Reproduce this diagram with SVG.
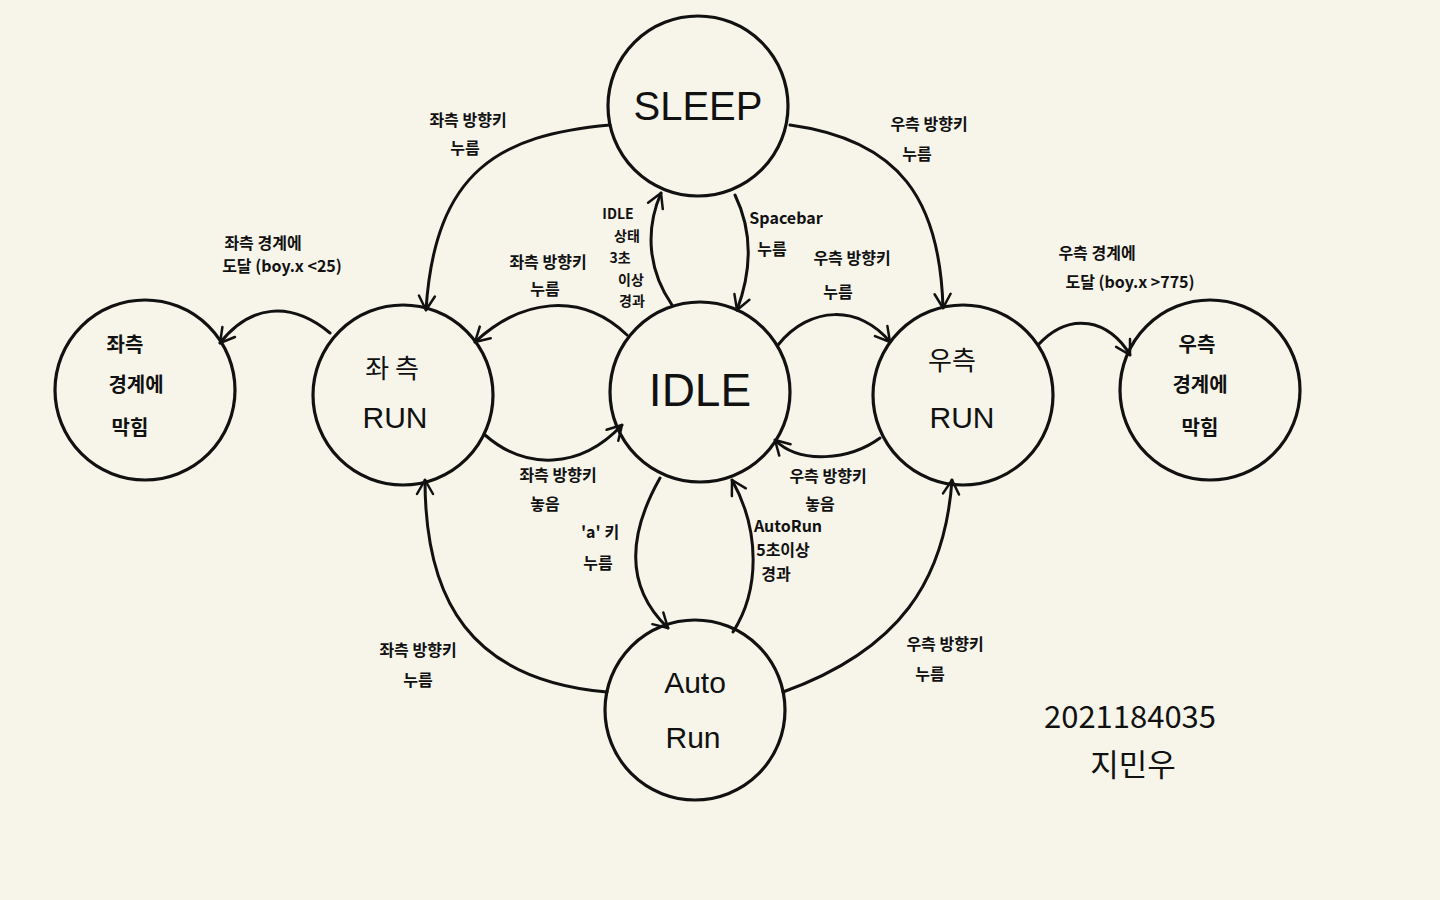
<svg xmlns="http://www.w3.org/2000/svg" width="1440" height="900" viewBox="0 0 1440 900">
<defs>
<marker id="arr" viewBox="0 0 20 20" refX="16" refY="10" markerWidth="20" markerHeight="20" markerUnits="userSpaceOnUse" orient="auto">
<path d="M2,2 L16,10 L2,18" fill="none" stroke="#111" stroke-width="2.5" stroke-linecap="round" stroke-linejoin="round"/>
</marker>
<style>
.node circle{fill:none;stroke:#111;stroke-width:3.2}
.edges path{fill:none;stroke:#111;stroke-width:3;stroke-linecap:round;marker-end:url(#arr)}
text{font-family:"Noto Sans CJK KR","Noto Sans",sans-serif;fill:#111;text-anchor:middle}
.big{font-size:40px;font-family:"Liberation Sans","Noto Sans CJK KR",sans-serif}
.mid{font-size:30px;font-family:"Liberation Sans","Noto Sans CJK KR",sans-serif}
.kr{font-size:26px}
.lbl{font-size:16px;font-weight:700}
.sm{font-size:14px;font-weight:700}
.sig{font-size:31px}
</style>
</defs>
<rect width="1440" height="900" fill="#f7f5ea"/>
<g class="edges">
<path d="M610,125 C500,135 435,170 426,310"/>
<path d="M790,125 C900,140 940,200 943,308"/>
<path d="M330,333 C290,300 250,305 220,343"/>
<path d="M1038,345 C1070,310 1110,320 1130,355"/>
<path d="M672,305 C648,270 645,230 661,193"/>
<path d="M735,195 C752,230 752,270 737,310"/>
<path d="M627,335 C580,290 520,300 475,342"/>
<path d="M485,435 C525,470 580,470 622,425"/>
<path d="M778,345 C810,305 860,305 890,342"/>
<path d="M880,438 C850,460 800,465 775,440"/>
<path d="M660,478 C625,540 628,590 668,628"/>
<path d="M733,632 C760,590 760,530 732,480"/>
<path d="M607,692 C470,680 425,600 425,480"/>
<path d="M783,692 C900,650 945,580 952,480"/>
</g>
<g id="sleep" class="node"><circle cx="698" cy="106" r="90"/><text class="big" x="698" y="120">SLEEP</text></g>
<g id="idle" class="node"><circle cx="700" cy="392" r="90"/><text class="big" x="700" y="406" style="font-size:46px">IDLE</text></g>
<g id="leftrun" class="node"><circle cx="403" cy="395" r="90"/><text class="kr" x="392" y="378">좌 측</text><text class="mid" x="395" y="428">RUN</text></g>
<g id="rightrun" class="node"><circle cx="963" cy="395" r="90"/><text class="kr" x="952" y="370">우측</text><text class="mid" x="962" y="428">RUN</text></g>
<g id="autorun" class="node"><circle cx="695" cy="710" r="90"/><text class="mid" x="695" y="693">Auto</text><text class="mid" x="693" y="748">Run</text></g>
<g id="leftblock" class="node"><circle cx="145" cy="390" r="90"/><text class="lbl" x="125" y="352" style="font-size:20px">좌측</text><text class="lbl" x="136" y="392" style="font-size:20px">경계에</text><text class="lbl" x="130" y="435" style="font-size:20px">막힘</text></g>
<g id="rightblock" class="node"><circle cx="1210" cy="390" r="90"/><text class="lbl" x="1197" y="352" style="font-size:20px">우측</text><text class="lbl" x="1200" y="392" style="font-size:20px">경계에</text><text class="lbl" x="1200" y="435" style="font-size:20px">막힘</text></g>
<g id="labels">
<text class="lbl" x="468" y="126">좌측 방향키</text><text class="lbl" x="465" y="154">누름</text>
<text class="lbl" x="929" y="130">우측 방향키</text><text class="lbl" x="917" y="160">누름</text>
<text class="lbl" x="263" y="249">좌측 경계에</text><text class="lbl" x="282" y="272">도달 (boy.x &lt;25)</text>
<text class="sm" x="618" y="219">IDLE</text><text class="sm" x="627" y="241">상태</text><text class="sm" x="620" y="263">3초</text><text class="sm" x="631" y="285">이상</text><text class="sm" x="632" y="306">경과</text>
<text class="lbl" x="786" y="224">Spacebar</text><text class="lbl" x="772" y="255">누름</text>
<text class="lbl" x="548" y="268">좌측 방향키</text><text class="lbl" x="545" y="295">누름</text>
<text class="lbl" x="852" y="264">우측 방향키</text><text class="lbl" x="838" y="298">누름</text>
<text class="lbl" x="1097" y="259">우측 경계에</text><text class="lbl" x="1130" y="288">도달 (boy.x &gt;775)</text>
<text class="lbl" x="558" y="481">좌측 방향키</text><text class="lbl" x="545" y="510">놓음</text>
<text class="lbl" x="600" y="538">'a' 키</text><text class="lbl" x="598" y="569">누름</text>
<text class="lbl" x="828" y="482">우측 방향키</text><text class="lbl" x="820" y="510">놓음</text>
<text class="lbl" x="788" y="532">AutoRun</text><text class="lbl" x="783" y="556">5초이상</text><text class="lbl" x="776" y="580">경과</text>
<text class="lbl" x="418" y="656">좌측 방향키</text><text class="lbl" x="418" y="686">누름</text>
<text class="lbl" x="945" y="650">우측 방향키</text><text class="lbl" x="930" y="680">누름</text>
<text class="sig" x="1130" y="728">2021184035</text><text class="sig" x="1133" y="776">지민우</text>
</g>
</svg>
